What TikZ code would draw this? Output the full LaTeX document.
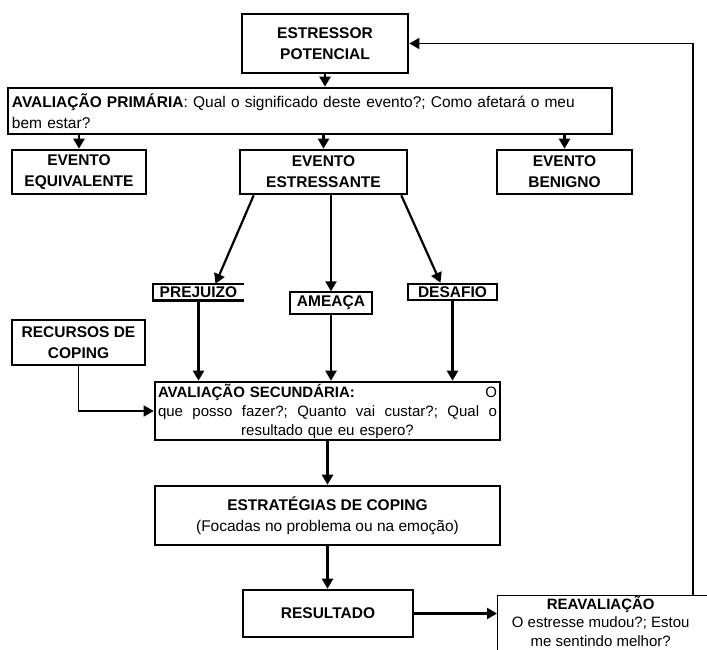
\documentclass[tikz,border=0pt]{standalone}
\usepackage{fontspec}
\setmainfont{Liberation Sans}
\usetikzlibrary{arrows.meta,calc}

\begin{document}
\begin{tikzpicture}[
    x=1pt, y=-1pt,
    font=\fontsize{15.5}{21}\selectfont,
    box/.style={draw, line width=2.6pt, inner sep=2pt, align=center},
    thinbox/.style={draw, line width=1.4pt, inner sep=2pt, align=center},
    arr/.style={-{Triangle[length=10pt,width=11pt]}, line width=2.2pt},
    thinarr/.style={-{Triangle[length=10pt,width=11pt]}, line width=1.4pt},
]

\useasboundingbox (0,0) rectangle (707,649);
\clip (0,0) rectangle (707,649);

\node[box, minimum width=166, minimum height=59] (stressor) at (325,43.5)
    {\textbf{ESTRESSOR}\\\textbf{POTENCIAL}};
\node[box, minimum width=604, minimum height=46, text width=596, align=left] (primary) at (310,111)
    {\textbf{AVALIAÇÃO PRIMÁRIA}: Qual o significado deste evento?; Como afetará o meu\\bem estar?};

\node[box, minimum width=134, minimum height=44] (equiv) at (79,172)
    {\textbf{EVENTO}\\\textbf{EQUIVALENTE}};
\node[box, minimum width=167, minimum height=44] (stressful) at (323.5,172)
    {\textbf{EVENTO}\\\textbf{ESTRESSANTE}};
\node[box, minimum width=135, minimum height=44] (benign) at (564.5,172)
    {\textbf{EVENTO}\\\textbf{BENIGNO}};

\node[inner sep=0pt, minimum width=91, minimum height=16] (harm) at (198.5,292) {\textbf{PREJUIZO}};
\draw[line width=2.6pt] (harm.north east) -| (harm.south west) -- (harm.south east);
\node[thinbox, minimum width=82, minimum height=22, inner sep=0pt] (threat) at (331,303) {\textbf{AMEAÇA}};
\node[box, minimum width=89, minimum height=16, inner sep=0pt] (challenge) at (452.5,292) {\textbf{DESAFIO}};

\node[box, minimum width=133, minimum height=45] (resources) at (78.5,342.5)
    {\textbf{RECURSOS DE}\\\textbf{COPING}};
\node[box, minimum width=345, minimum height=58, text width=339, inner sep=1pt, font=\fontsize{15}{19}\selectfont] (secondary) at (327.5,411)
    {\makebox[\linewidth]{\textbf{AVALIAÇÃO SECUNDÁRIA:}\hfill O}\\
     \makebox[\linewidth]{que\hfill posso\hfill fazer?;\hfill Quanto\hfill vai\hfill custar?;\hfill Qual\hfill o}\\
     resultado que eu espero?};
\node[box, minimum width=345, minimum height=59] (strategies) at (327.5,515.5)
    {\textbf{ESTRATÉGIAS DE COPING}\\(Focadas no problema ou na emoção)};
\node[box, minimum width=170, minimum height=47] (result) at (328,613.5) {\textbf{RESULTADO}};
\node[thinbox, minimum width=222, minimum height=62, anchor=north west] (reappraisal) at (497,594.5) {};
\node[anchor=north, inner sep=0pt, align=center, font=\fontsize{15}{18.5}\selectfont] (reapptext) at ([xshift=-8pt,yshift=-1pt]reappraisal.north)
    {\textbf{REAVALIAÇÃO}\\O estresse mudou?; Estou\\me sentindo melhor?};

\draw[arr] (stressor.south) -- (stressor.south |- primary.north);
\foreach \n in {equiv,stressful,benign}{
    \draw[arr] (\n.north |- primary.south) -- (\n.north);
}
\draw[arr] ($(stressful.south west)+(15,0)$) -- ([xshift=17pt]harm.north);
\draw[arr] (stressful.south -| threat.north) -- (threat.north);
\draw[arr] ($(stressful.south east)+(-7,0)$) -- ([xshift=-12pt]challenge.north);
\foreach \n in {harm,threat,challenge}{
    \draw[arr] (\n.south) -- (\n.south |- secondary.north);
}
\draw[thinarr] (resources.south) |- (secondary.west);
\draw[arr, line width=3.5pt] (secondary.south -| strategies.north) -- (strategies.north);
\draw[arr] (strategies.south) -- (strategies.south |- result.north);
\draw[arr] (result.east) -- (result.east -| reappraisal.west);
\coordinate (loop) at (693,594.5);
\draw[thinarr] (loop) |- (stressor.east);

\end{tikzpicture}
\end{document}
